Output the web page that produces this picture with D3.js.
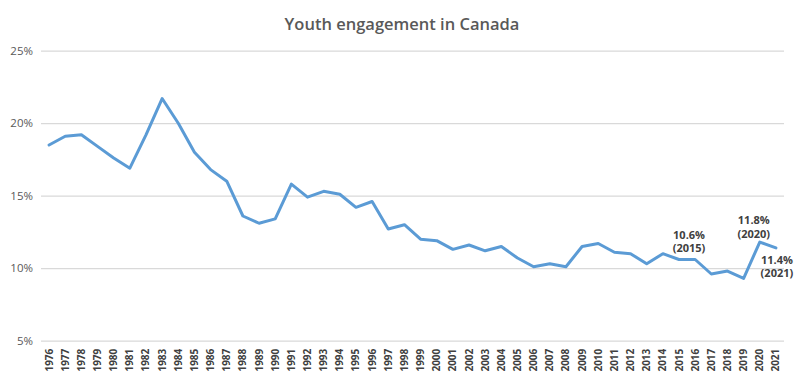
<!DOCTYPE html>
<html><head><meta charset="utf-8">
<script src="https://cdn.jsdelivr.net/npm/d3@7"></script>
<style>body{margin:0;background:#fff;} svg{display:block;}</style>
</head><body>
<svg id="c" width="800" height="383"></svg>
<script>
const years = d3.range(1976, 2022).map(String);
const values = [18.5,19.1,19.2,18.4,17.6,16.9,19.2,21.7,20.0,18.0,16.8,16.0,13.6,13.1,13.4,15.8,14.9,15.3,15.1,14.2,14.6,12.7,13.0,12.0,11.9,11.3,11.6,11.2,11.5,10.7,10.1,10.3,10.1,11.5,11.7,11.1,11.0,10.3,11.0,10.6,10.6,9.6,9.8,9.3,11.8,11.4];
const yTicks = [5,10,15,20,25];
const annotations = [
  {year:"2015", lines:["10.6%","(2015)"], dx:10, dy:-21},
  {year:"2020", lines:["11.8%","(2020)"], dx:-6, dy:-18},
  {year:"2021", lines:["11.4%","(2021)"], dx:1, dy:16}
];
const title = "Youth engagement in Canada";

const svg = d3.select("#c");
const x = d3.scaleBand().domain(years).range([41, 784]).padding(0);
const y = d3.scaleLinear().domain([5, 25]).range([340.7, 50.7]);
const cx = d => x(d) + x.bandwidth()/2;

svg.append("text").attr("x", 402).attr("y", 30).attr("text-anchor","middle")
  .attr("font-family","Open Sans, Lato, sans-serif").attr("font-size",16.5).attr("font-weight",600)
  .attr("fill","#595959").text(title);

// grid
const yAxis = d3.axisLeft(y).tickValues(yTicks).tickSize(-(784-41)).tickFormat(d => d + "%");
const gy = svg.append("g").attr("transform","translate(41,0)").call(yAxis);
gy.select(".domain").remove();
gy.selectAll(".tick line").attr("stroke","#d9d9d9").attr("stroke-width",1.2);
gy.selectAll(".tick text").attr("x",-8).attr("font-family","Open Sans, Lato, sans-serif")
  .attr("font-size",11.5).attr("fill","#595959");

// x axis
const xAxis = d3.axisBottom(x).tickSize(0);
const gx = svg.append("g").attr("transform","translate(0,340.7)").call(xAxis);
gx.select(".domain").remove();
gx.selectAll(".tick text").attr("transform","rotate(-90)").attr("text-anchor","end")
  .attr("x",-8).attr("y",0).attr("dy","0.35em")
  .attr("font-family","Open Sans, Lato, sans-serif").attr("font-size",10).attr("font-weight",700)
  .attr("fill","#404040");

// line
const line = d3.line().x((d,i) => cx(years[i])).y(d => y(d));
svg.append("path").datum(values).attr("d", line).attr("fill","none")
  .attr("stroke","#5B9BD5").attr("stroke-width",3).attr("stroke-linejoin","round").attr("stroke-linecap","round");

// annotations
annotations.forEach(a => {
  const i = years.indexOf(a.year);
  const px = cx(a.year) + a.dx, py = y(values[i]) + a.dy;
  const t = svg.append("text").attr("x",px).attr("y",py).attr("text-anchor","middle")
    .attr("font-family","Open Sans, Lato, sans-serif").attr("font-size",11).attr("font-weight",700)
    .attr("fill","#404040");
  a.lines.forEach((l,k) => t.append("tspan").attr("x",px).attr("dy", k===0?0:13.5).text(l));
});
</script>
</body></html>
